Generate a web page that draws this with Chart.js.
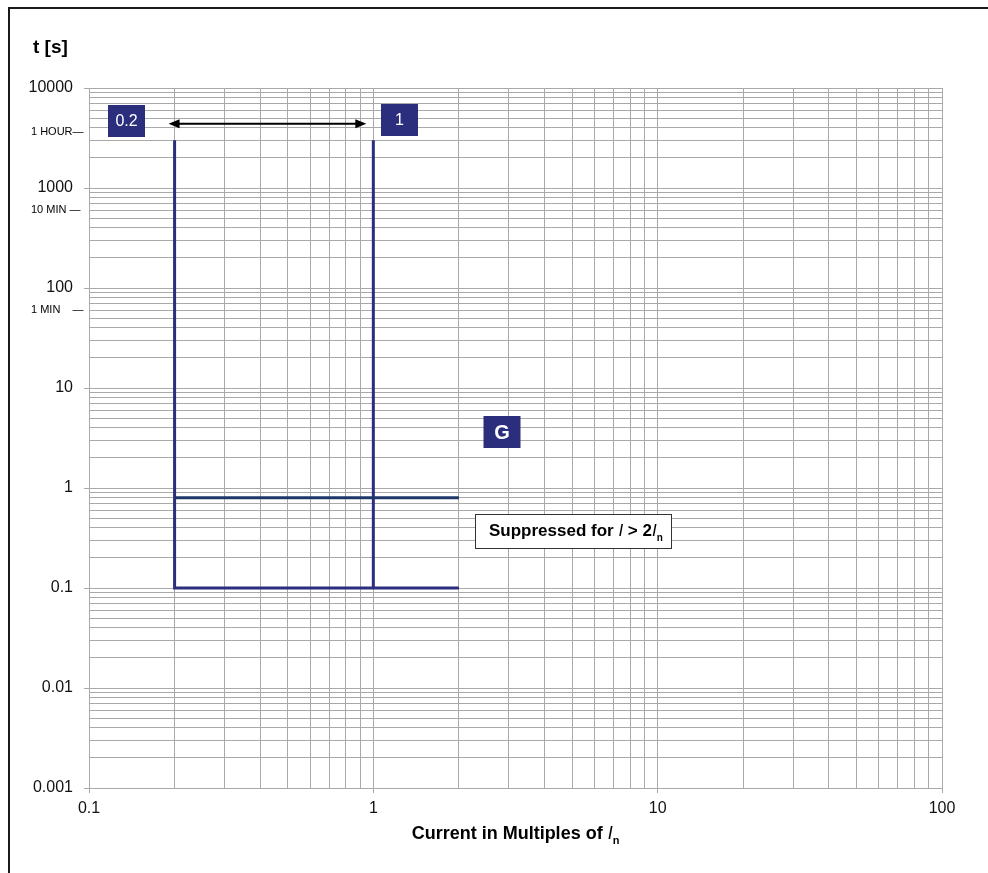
<!DOCTYPE html>
<html lang="en">
<head>
    <meta charset="UTF-8">
    <title>Tripping Characteristic G</title>
    <script src="https://cdn.jsdelivr.net/npm/chart.js"></script>
    <style>
        body {
            margin: 0;
            background: #ffffff;
        }
        #tripChart {
            display: block;
        }
    </style>
</head>
<body>
    <canvas id="tripChart" width="988" height="873"></canvas>

    <script>
        // trip curve: long delay stage (0.2 .. 1 x In), short time 0.1 s up to 2 x In
        const curveLowX = [0.2, 0.2, 2];
        const curveLowY = [3000, 0.1, 0.1];
        const curveHighX = [1, 1];
        const curveHighY = [3000, 0.1];
        // G stage at 0.8 s, suppressed for I > 2In
        const stageGX = [0.2, 2];
        const stageGY = [0.8, 0.8];

        // axis ticks
        const xDecades = [0.1, 1, 10, 100];
        const xTickLabels = ['0.1', '1', '10', '100'];
        const yDecades = [0.001, 0.01, 0.1, 1, 10, 100, 1000, 10000];
        const yTickLabels = ['0.001', '0.01', '0.1', '1', '10', '100', '1000', '10000'];

        // time markers on the y axis
        const timeMarks = [3600, 600, 60];
        const timeLabels = ['1 HOUR\u2014', '10 MIN \u2014', '1 MIN    \u2014'];

        const navy = '#2b2e7c';
        const gBlue = '#1d3868';
        const gridGrey = '#a9a9a9';
        const sans = '"Liberation Sans", Arial, sans-serif';

        function toPoints(xs, ys) {
            return xs.map((v, i) => ({ x: v, y: ys[i] }));
        }

        // 1..9 gridlines for every decade
        function logTicks(decades, labels) {
            const ticks = [];
            decades.forEach((d, i) => {
                if (i === decades.length - 1) {
                    ticks.push({ value: d, major: true, label: labels[i] });
                    return;
                }
                for (let s = 1; s <= 9; s++) {
                    ticks.push({ value: d * s, major: s === 1, label: s === 1 ? labels[i] : '' });
                }
            });
            return ticks;
        }

        // draw a run of [text, font, dy] pieces starting at x
        function drawRun(ctx, parts, x, y) {
            parts.forEach(([s, f, dy]) => {
                ctx.font = f;
                ctx.fillText(s, x, y + dy);
                x += ctx.measureText(s).width;
            });
        }

        function runWidth(ctx, parts) {
            let w = 0;
            parts.forEach(([s, f]) => {
                ctx.font = f;
                w += ctx.measureText(s).width;
            });
            return w;
        }

        const decorations = {
            id: 'decorations',
            afterDraw(chart) {
                const { ctx, scales: { x, y } } = chart;
                ctx.save();

                // outer frame (left + top)
                ctx.strokeStyle = '#1a1a1a';
                ctx.lineWidth = 2;
                ctx.beginPath();
                ctx.moveTo(9, 873);
                ctx.lineTo(9, 8);
                ctx.lineTo(988, 8);
                ctx.stroke();

                // y title
                ctx.fillStyle = '#000';
                ctx.font = 'bold 19px ' + sans;
                ctx.textAlign = 'left';
                ctx.textBaseline = 'alphabetic';
                ctx.fillText('t [s]', 33, 53);

                // time markers
                ctx.font = '11px ' + sans;
                ctx.textBaseline = 'middle';
                timeMarks.forEach((t, i) => {
                    ctx.fillText(timeLabels[i], 31, y.getPixelForValue(t));
                });

                // x title: Current in Multiples of In
                ctx.textBaseline = 'alphabetic';
                const xTitle = [
                    ['Current in Multiples of ', 'bold 18px ' + sans, 0],
                    ['I', 'italic 18px ' + sans, 0],
                    ['n', 'bold 11px ' + sans, 5]
                ];
                const xw = runWidth(ctx, xTitle);
                drawRun(ctx, xTitle, (chart.chartArea.left + chart.chartArea.right) / 2 - xw / 2, 839);

                // double arrow between 0.2 and 1
                const ay = y.getPixelForValue(4400);
                const ax1 = x.getPixelForValue(0.2) - 6;
                const ax2 = x.getPixelForValue(1) - 7;
                ctx.strokeStyle = '#000';
                ctx.lineWidth = 2;
                ctx.beginPath();
                ctx.moveTo(ax1 + 8, ay);
                ctx.lineTo(ax2 - 8, ay);
                ctx.stroke();
                ctx.fillStyle = '#000';
                ctx.beginPath();
                ctx.moveTo(ax1, ay);
                ctx.lineTo(ax1 + 11, ay - 4.5);
                ctx.lineTo(ax1 + 11, ay + 4.5);
                ctx.closePath();
                ctx.fill();
                ctx.beginPath();
                ctx.moveTo(ax2, ay);
                ctx.lineTo(ax2 - 11, ay - 4.5);
                ctx.lineTo(ax2 - 11, ay + 4.5);
                ctx.closePath();
                ctx.fill();

                // navy label boxes
                function tag(cx, cy, text, font) {
                    ctx.fillStyle = navy;
                    ctx.fillRect(cx - 18.5, cy - 16, 37, 32);
                    ctx.fillStyle = '#fff';
                    ctx.font = font;
                    ctx.textAlign = 'center';
                    ctx.textBaseline = 'middle';
                    ctx.fillText(text, cx, cy + 1);
                }
                tag(126.5, 121, '0.2', '16px ' + sans);
                tag(399.5, 120, '1', '16px ' + sans);
                tag(502, 432, 'G', 'bold 20px ' + sans);

                // suppressed note
                ctx.fillStyle = '#fff';
                ctx.fillRect(475.5, 514.5, 196, 34);
                ctx.strokeStyle = '#333';
                ctx.lineWidth = 1;
                ctx.strokeRect(475.5, 514.5, 196, 34);
                ctx.fillStyle = '#000';
                ctx.textAlign = 'left';
                ctx.textBaseline = 'alphabetic';
                drawRun(ctx, [
                    ['Suppressed for ', 'bold 17px ' + sans, 0],
                    ['I', 'italic 17px ' + sans, 0],
                    [' > 2', 'bold 17px ' + sans, 0],
                    ['I', 'italic 17px ' + sans, 0],
                    ['n', 'bold 10px ' + sans, 5]
                ], 489, 536);

                ctx.restore();
            }
        };

        const lineStyle = {
            showLine: true,
            borderWidth: 3,
            pointRadius: 0,
            fill: false,
            tension: 0
        };

        const config = {
            type: 'scatter',
            data: {
                datasets: [
                    { ...lineStyle, label: 'G 0.8 s', data: toPoints(stageGX, stageGY), borderColor: gBlue },
                    { ...lineStyle, label: '0.2 In', data: toPoints(curveLowX, curveLowY), borderColor: navy },
                    { ...lineStyle, label: '1 In', data: toPoints(curveHighX, curveHighY), borderColor: navy }
                ]
            },
            options: {
                responsive: false,
                animation: false,
                layout: {
                    padding: { left: 0, top: 88, right: 46, bottom: 0 }
                },
                plugins: {
                    legend: { display: false },
                    tooltip: { enabled: false }
                },
                scales: {
                    x: {
                        type: 'logarithmic',
                        min: 0.1,
                        max: 100,
                        afterBuildTicks: (scale) => {
                            scale.ticks = logTicks(xDecades, xTickLabels);
                        },
                        afterFit: (scale) => {
                            scale.height = 85;
                        },
                        grid: {
                            color: gridGrey,
                            lineWidth: 1,
                            tickLength: 5,
                            tickColor: (c) => (c.tick && c.tick.major ? gridGrey : 'rgba(0,0,0,0)')
                        },
                        border: { color: gridGrey },
                        ticks: {
                            autoSkip: false,
                            maxRotation: 0,
                            padding: 6,
                            color: '#111',
                            font: { family: sans, size: 16 },
                            callback: function (value, index) {
                                return this.ticks[index].label;
                            }
                        }
                    },
                    y: {
                        type: 'logarithmic',
                        min: 0.001,
                        max: 10000,
                        afterBuildTicks: (scale) => {
                            scale.ticks = logTicks(yDecades, yTickLabels);
                        },
                        afterFit: (scale) => {
                            scale.width = 89;
                        },
                        grid: {
                            color: gridGrey,
                            lineWidth: 1,
                            tickLength: 5,
                            tickColor: (c) => (c.tick && c.tick.major ? gridGrey : 'rgba(0,0,0,0)')
                        },
                        border: { color: gridGrey },
                        ticks: {
                            autoSkip: false,
                            padding: 11,
                            color: '#111',
                            font: { family: sans, size: 16 },
                            callback: function (value, index) {
                                return this.ticks[index].label;
                            }
                        }
                    }
                }
            },
            plugins: [decorations]
        };

        const ctx = document.getElementById('tripChart').getContext('2d');
        const tripChart = new Chart(ctx, config);
    </script>
</body>
</html>
